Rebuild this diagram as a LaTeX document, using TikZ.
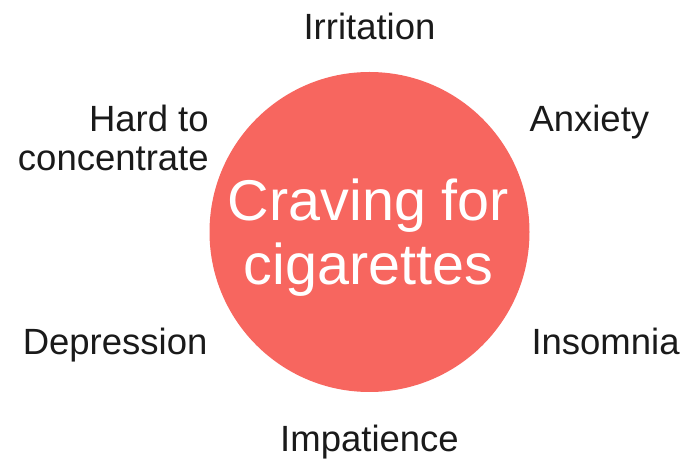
\documentclass[tikz,border=0pt]{standalone}
\usepackage{fontspec}
\setmainfont{Liberation Sans}
\definecolor{crave}{HTML}{F7665F}
\definecolor{labtxt}{HTML}{1A1A1A}
\begin{document}
\begin{tikzpicture}[x=1pt,y=-1pt,
  lab/.style={inner sep=0pt,outer sep=0pt,text=labtxt,font=\fontsize{36.5}{39}\selectfont},
  hub/.style={circle,fill=crave,inner sep=0pt,minimum size=320pt}]
\useasboundingbox (0,0) rectangle (681,462);
\node[hub] (c) at (369.5,232) {};
\node[inner sep=0pt,text=white,align=center,font=\fontsize{57.5}{64}\selectfont,anchor=base] (ct) at (368.5,285) {Craving for\\cigarettes};
\node[lab,anchor=base] (irr) at (369.5,39.3) {Irritation};
\node[lab,anchor=base west] (anx) at (529.5,131.7) {Anxiety};
\node[lab,anchor=base east,align=right] (hard) at (208.7,170.7) {Hard to\\concentrate};
\node[lab,anchor=base east] (dep) at (207.4,355) {Depression};
\node[lab,anchor=base west] (ins) at (531.5,355) {Insomnia};
\node[lab,anchor=base] (imp) at (369.5,451.7) {Impatience};
\end{tikzpicture}
\end{document}
